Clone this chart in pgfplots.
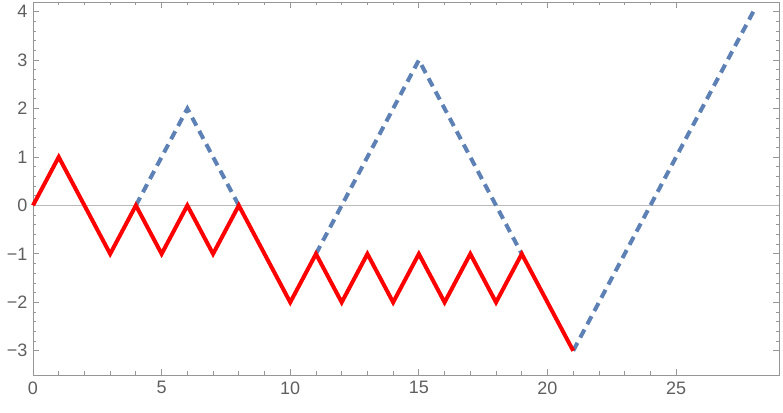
\documentclass[border=0pt]{standalone}
\usepackage{pgfplots}
\pgfplotsset{compat=1.18}
\usepackage{fontspec}
\setmainfont{Liberation Sans}
\definecolor{axgray}{RGB}{150,150,150}
\definecolor{lblgray}{RGB}{95,95,95}
\definecolor{mblue}{RGB}{94,129,181}
\begin{document}
\begin{tikzpicture}
\begin{axis}[
  scale only axis,
  width=746pt, height=373pt,
  xmin=0, xmax=29, ymin=-3.5, ymax=4.2,
  axis line style={axgray, line width=0.8pt},
  xtick={0,5,...,25},
  xticklabels={0,5,10,15,20,25},
  ytick={-3,-2,...,4},
  yticklabels={−3,−2,−1,0,1,2,3,4},
  minor x tick num=4,
  minor y tick num=4,
  tick align=inside,
  major tick length=6pt,
  minor tick length=3.5pt,
  tick style={axgray, line width=0.8pt},
  every tick label/.append style={font=\fontsize{18}{21}\selectfont, text=lblgray},
  xticklabel style={yshift=-3pt},
  yticklabel style={xshift=-2pt},
  xtick pos=both, ytick pos=both,
  xticklabel pos=bottom, yticklabel pos=left,
  clip=false,
]
\addplot[gray!55, line width=0.8pt, forget plot] coordinates {(0,0) (29,0)};
\addplot[mblue, line width=4pt, dash pattern=on 9pt off 6pt] coordinates {(4,0) (6,2) (8,0)};
\addplot[mblue, line width=4pt, dash pattern=on 9pt off 6pt] coordinates {(11,-1) (15,3) (19,-1)};
\addplot[mblue, line width=4pt, dash pattern=on 9pt off 6pt] coordinates {(21,-3) (28,4)};
\addplot[red, line width=4pt] coordinates {
(0,0) (1,1) (2,0) (3,-1) (4,0) (5,-1) (6,0) (7,-1) (8,0) (9,-1) (10,-2)
(11,-1) (12,-2) (13,-1) (14,-2) (15,-1) (16,-2) (17,-1) (18,-2) (19,-1) (20,-2) (21,-3)};
\end{axis}
\useasboundingbox ([xshift=-33pt,yshift=-38pt]current axis.south west) rectangle ([xshift=4pt,yshift=2pt]current axis.north east);
\end{tikzpicture}
\end{document}
